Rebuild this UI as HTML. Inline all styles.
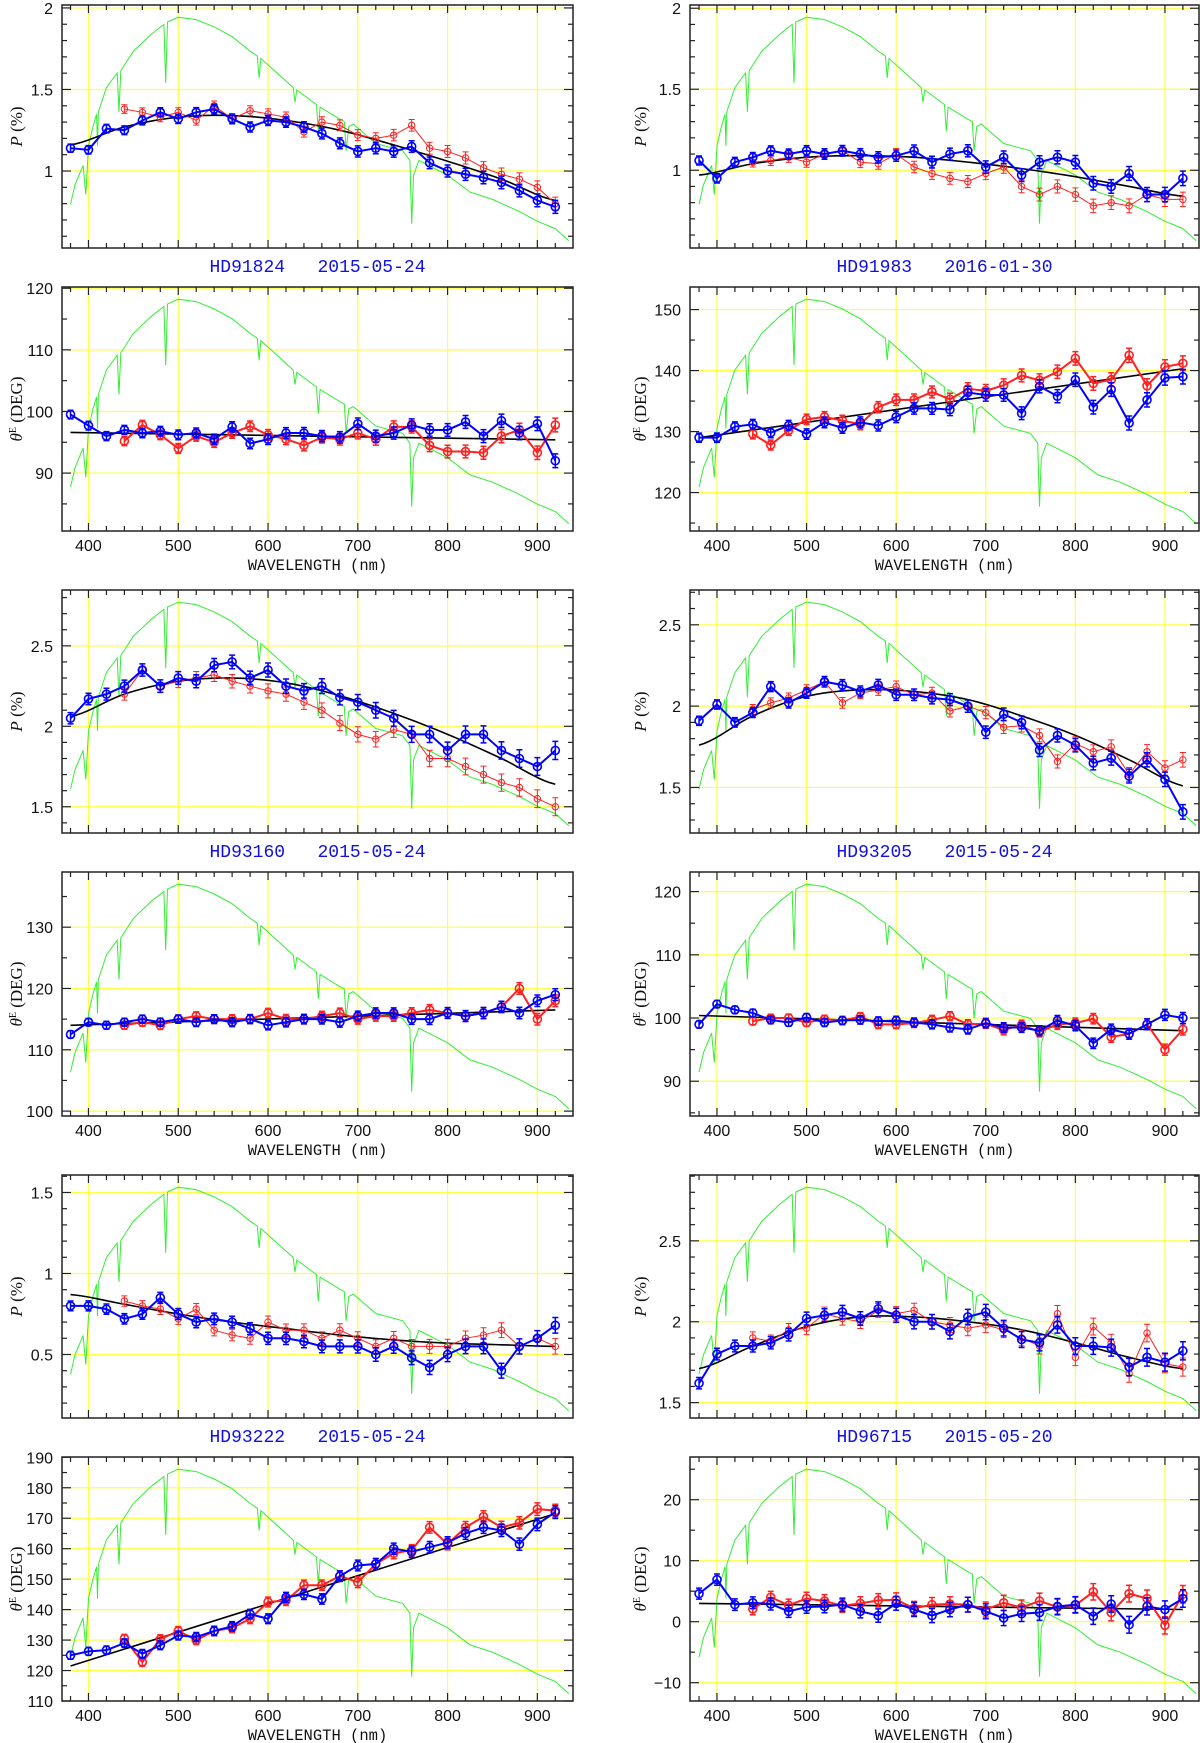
<!DOCTYPE html>
<html><head><meta charset="utf-8">
<style>
html,body{margin:0;padding:0;background:#fff;}
svg{display:block;}
text{font-family:"Liberation Sans",sans-serif;}
</style></head>
<body>
<svg id="fig" xmlns="http://www.w3.org/2000/svg" width="1200" height="1743" viewBox="0 0 1200 1743"></svg>
<script>
// ---- shared categories ----
const wlBlue=[380,400,420,440,460,480,500,520,540,560,580,600,620,640,660,680,700,720,740,760,780,800,820,840,860,880,900,920];
const wlRed=[440,460,480,500,520,540,560,580,600,620,640,660,680,700,720,740,760,780,800,820,840,860,880,900,920];
const wlFitCurve=[380,440,500,560,620,680,740,800,860,920];
const wlFitLine=[380,920];
const xTickLabels=["400","500","600","700","800","900"];
// green spectrum template (fraction of axis height)
const greenWl=[380,385,394,397,400,405,409,410,411,420,432,434,436,450,470,484,486,488,500,520,540,560,580,588,590,592,610,628,630,632,654,656,658,680,685,687,690,695,720,750,758,760,762,768,800,825,850,880,900,920,935];
const greenFrac=[0.18,0.26,0.34,0.22,0.42,0.5,0.55,0.42,0.56,0.66,0.72,0.56,0.73,0.81,0.88,0.92,0.68,0.93,0.95,0.94,0.91,0.87,0.81,0.79,0.7,0.78,0.72,0.66,0.6,0.65,0.59,0.48,0.58,0.53,0.52,0.4,0.5,0.51,0.43,0.4,0.36,0.1,0.3,0.36,0.3,0.23,0.2,0.15,0.11,0.08,0.03];

// ---- panel A: HD91824 P ----
const aBlue=[1.14,1.13,1.26,1.25,1.31,1.36,1.32,1.36,1.38,1.32,1.27,1.31,1.30,1.27,1.23,1.17,1.12,1.14,1.12,1.15,1.05,1.00,0.98,0.96,0.93,0.88,0.82,0.78];
const aRed=[1.38,1.36,1.33,1.36,1.31,1.40,1.32,1.37,1.35,1.33,1.24,1.30,1.28,1.22,1.20,1.22,1.28,1.14,1.12,1.08,1.02,0.98,0.95,0.90,0.80];
const aFit=[1.16,1.27,1.33,1.34,1.31,1.25,1.16,1.06,0.95,0.82];
// ---- panel B: HD91983 P ----
const bBlue=[1.06,0.95,1.05,1.08,1.12,1.10,1.12,1.10,1.12,1.10,1.08,1.09,1.12,1.05,1.10,1.12,1.02,1.08,0.97,1.05,1.08,1.05,0.92,0.90,0.98,0.85,0.85,0.95];
const bRed=[1.05,1.06,1.08,1.05,1.10,1.12,1.05,1.04,1.10,1.02,0.98,0.95,0.93,0.98,1.02,0.90,0.85,0.90,0.85,0.78,0.80,0.78,0.85,0.82,0.82];
const bFit=[0.97,1.04,1.08,1.09,1.08,1.05,1.01,0.96,0.90,0.84];
// ---- panel C: HD91824 theta ----
const cBlue=[99.5,97.7,96,97,96.5,96.8,96.2,96.5,95.5,97.5,94.8,95.5,96.5,96.5,96,95.8,98,96,96.5,97.8,97,97,98.3,96,98.5,96.5,98,92];
const cRed=[95.2,97.8,96.2,94,96,95,96.5,97.6,96.2,95.5,94.5,95.8,95.5,96.5,95.5,97.5,97.5,94.5,93.5,93.5,93.3,96,97,93.3,97.8];
const cFit=[96.6,95.4];
// ---- panel D: HD91983 theta ----
const dBlue=[129,129,130.8,131.2,129.8,131,129.6,131.5,130.6,131.5,131,132.4,133.8,133.8,133.6,136.4,136,136,133,137.4,135.8,138.5,134,136.9,131.4,135.2,138.8,139];
const dRed=[129.6,127.8,130.2,132,132.4,131.8,131.2,134,135.2,135.2,136.5,135.3,137,136.7,137.6,139.2,138.4,139.8,142,137.9,138.5,142.5,137.5,140.6,141.2];
const dFit=[129,140.3];
// ---- panel E: HD93160 P ----
const eBlue=[2.05,2.17,2.2,2.25,2.35,2.25,2.3,2.28,2.38,2.4,2.3,2.35,2.25,2.22,2.25,2.18,2.15,2.1,2.05,1.95,1.95,1.85,1.95,1.95,1.85,1.8,1.75,1.85];
const eRed=[2.2,2.35,2.25,2.28,2.3,2.32,2.28,2.25,2.22,2.2,2.15,2.1,2.02,1.95,1.92,1.98,1.95,1.8,1.8,1.75,1.7,1.65,1.62,1.55,1.5];
const eFit=[2.06,2.2,2.28,2.3,2.27,2.19,2.08,1.95,1.8,1.64];
// ---- panel F: HD93205 P ----
const fBlue=[1.91,2.01,1.9,1.96,2.12,2.02,2.08,2.15,2.13,2.09,2.13,2.07,2.07,2.05,2.04,2.0,1.84,1.95,1.9,1.73,1.82,1.76,1.65,1.68,1.57,1.67,1.55,1.35];
const fRed=[1.98,2.02,2.05,2.1,2.15,2.02,2.08,2.1,2.12,2.07,2.08,1.97,2.0,1.96,1.87,1.88,1.82,1.66,1.77,1.72,1.75,1.58,1.72,1.62,1.67];
const fFit=[1.76,1.94,2.06,2.1,2.09,2.04,1.94,1.82,1.67,1.51];
// ---- panel G: HD93160 theta ----
const gBlue=[112.5,114.5,114,114.5,115,114.5,115,114.5,115,114.5,115,114,114.5,115,115,114.5,115.5,116,116,115,115,116,115.5,116,117,116,118,119];
const gRed=[114,114.5,114,115,115.5,115,115,115,116,115,115,115.5,116,115,115.5,115.5,116,116.5,116,115.5,116,117,120,115,118];
const gFit=[114,116.5];
// ---- panel H: HD93205 theta ----
const hBlue=[99,102.2,101.3,100.8,99.7,99.3,100.1,99.3,99.6,99.7,99.5,99.6,99.3,99,98.5,98.2,99.2,98.5,98.5,98,99.6,98.8,96,98.2,97.5,99,100.5,100];
const hRed=[99.5,100,100,99.3,99.8,99.6,100.2,99,99,99.2,99.7,100.3,99,99.1,98.1,98.9,97.8,99,99.2,99.9,97,97.5,99,95,98.2];
const hFit=[100.4,98];
// ---- panel I: HD93222 P ----
const iBlue=[0.8,0.8,0.78,0.72,0.75,0.85,0.75,0.7,0.72,0.7,0.66,0.6,0.6,0.58,0.55,0.55,0.55,0.5,0.55,0.48,0.42,0.5,0.55,0.55,0.4,0.55,0.6,0.68];
const iRed=[0.83,0.8,0.78,0.72,0.78,0.65,0.62,0.6,0.7,0.65,0.65,0.6,0.65,0.6,0.55,0.6,0.55,0.55,0.55,0.6,0.62,0.65,0.55,0.6,0.55];
const iFit=[0.87,0.81,0.75,0.7,0.66,0.62,0.59,0.57,0.56,0.55];
// ---- panel J: HD96715 P ----
const jBlue=[1.62,1.8,1.85,1.85,1.87,1.92,2.02,2.04,2.06,2.02,2.08,2.04,2.0,2.0,1.94,2.03,2.06,1.96,1.89,1.87,1.98,1.85,1.85,1.84,1.72,1.78,1.75,1.82];
const jRed=[1.9,1.88,1.95,1.96,2.05,2.02,2.0,2.07,2.05,2.07,2.0,1.98,1.96,1.98,1.95,1.9,1.85,2.05,1.78,1.97,1.87,1.68,1.93,1.74,1.72];
const jFit=[1.71,1.85,1.97,2.03,2.03,2.0,1.95,1.87,1.78,1.71];
// ---- panel K: HD93222 theta ----
const kBlue=[125,126.3,126.7,129,125.5,128.3,131.5,131,133,134.5,138.5,137,144,145,143.5,151,154.5,155,160,159,160.5,162,165,167,166,161.5,168,172];
const kRed=[130.5,122.8,130.3,133,130,133,134,137,142.5,143,148,148,151,149,155,158.5,159.5,167,161.5,167,170.5,167,168.5,173,172.5];
const kFit=[121.5,171.5];
// ---- panel L: HD96715 theta ----
const lBlue=[4.6,6.9,2.8,3.1,2.9,1.7,2.4,2.5,2.8,1.7,1.0,3.0,2.0,1.0,2.0,2.8,1.7,0.6,1.3,1.5,2.5,2.8,0.9,2.9,-0.5,2.5,2.0,3.8];
const lRed=[2.1,4.0,2.7,3.8,3.4,2.6,3.0,3.5,3.6,2.2,2.8,2.9,2.8,2.0,3.1,2.3,3.4,2.4,2.7,4.9,1.5,4.6,3.8,-0.6,4.5];
const lFit=[3,2];

const panels=[
 {n:'hd91824-p',col:0,row:0,kind:'P',ymin:0.528,ymax:2.018,major:0.5,minor:0.1,blue:aBlue,red:aRed,fit:aFit,err:0.025,title:'HD91824   2015-05-24'},
 {n:'hd91983-p',col:1,row:0,kind:'P',ymin:0.52,ymax:2.02,major:0.5,minor:0.1,blue:bBlue,red:bRed,fit:bFit,err:0.028,title:'HD91983   2016-01-30'},
 {n:'hd91824-theta',col:0,row:0,kind:'T',ymin:80.6,ymax:120.2,major:10,minor:5,blue:cBlue,red:cRed,fit:cFit,err:0.7},
 {n:'hd91983-theta',col:1,row:0,kind:'T',ymin:113.7,ymax:153.7,major:10,minor:5,blue:dBlue,red:dRed,fit:dFit,err:0.75},
 {n:'hd93160-p',col:0,row:1,kind:'P',ymin:1.337,ymax:2.847,major:0.5,minor:0.1,blue:eBlue,red:eRed,fit:eFit,err:0.035,title:'HD93160   2015-05-24'},
 {n:'hd93205-p',col:1,row:1,kind:'P',ymin:1.22,ymax:2.714,major:0.5,minor:0.1,blue:fBlue,red:fRed,fit:fFit,err:0.028,title:'HD93205   2015-05-24'},
 {n:'hd93160-theta',col:0,row:1,kind:'T',ymin:99.2,ymax:139.0,major:10,minor:5,blue:gBlue,red:gRed,fit:gFit,err:0.6},
 {n:'hd93205-theta',col:1,row:1,kind:'T',ymin:84.5,ymax:123.1,major:10,minor:5,blue:hBlue,red:hRed,fit:hFit,err:0.55},
 {n:'hd93222-p',col:0,row:2,kind:'P',ymin:0.108,ymax:1.608,major:0.5,minor:0.1,blue:iBlue,red:iRed,fit:iFit,err:0.03,title:'HD93222   2015-05-24'},
 {n:'hd96715-p',col:1,row:2,kind:'P',ymin:1.405,ymax:2.907,major:0.5,minor:0.1,blue:jBlue,red:jRed,fit:jFit,err:0.035,title:'HD96715   2015-05-20'},
 {n:'hd93222-theta',col:0,row:2,kind:'T',ymin:110,ymax:190.1,major:10,minor:5,blue:kBlue,red:kRed,fit:kFit,err:1.3},
 {n:'hd96715-theta',col:1,row:2,kind:'T',ymin:-13,ymax:27,major:10,minor:5,blue:lBlue,red:lRed,fit:lFit,err:0.9}
];

const NS='http://www.w3.org/2000/svg';
const svg=document.getElementById('fig');
function mk(tag,attrs,parent){const e=document.createElementNS(NS,tag);for(const k in attrs)e.setAttribute(k,attrs[k]);(parent||svg).appendChild(e);return e;}
const COLS=[{x0:62,x1:573,l0:370.5,l1:939.7},{x0:690,x1:1199,l0:369.9,l1:938}];

function fmt(v){let s=(Math.round(v*1000)/1000).toString();if(s.startsWith('-'))s='\u2212'+s.slice(1);return s;}

panels.forEach(p=>{
  const C=COLS[p.col];
  const top=(p.kind==='P'?5:287)+585*p.row, bot=(p.kind==='P'?248:531)+585*p.row;
  const X=l=>C.x0+(l-C.l0)/(C.l1-C.l0)*(C.x1-C.x0);
  const Y=v=>bot-(v-p.ymin)/(p.ymax-p.ymin)*(bot-top);
  const g=mk('g',{});
  
  
  const cid='clip-'+p.n;
  const cp=mk('clipPath',{id:cid},g);mk('rect',{x:C.x0,y:top,width:C.x1-C.x0,height:bot-top},cp);
  const inner=mk('g',{'clip-path':'url(#'+cid+')'},g);
  const grid=mk('g',{stroke:'#ffff44','stroke-width':1.2},inner);
  
  
  [400,500,600,700,800,900].forEach(l=>mk('line',{x1:X(l),x2:X(l),y1:top,y2:bot},grid));
  const majors=[];
  for(let v=Math.ceil(p.ymin/p.major-1e-9)*p.major;v<=p.ymax+1e-9;v+=p.major)majors.push(+v.toFixed(3));
  majors.forEach(v=>mk('line',{x1:C.x0,x2:C.x1,y1:Y(v),y2:Y(v)},grid));
  const gp=greenWl.map((l,i)=>X(l).toFixed(1)+','+(bot-greenFrac[i]*(bot-top)).toFixed(1)).join(' ');
  const gl=mk('polyline',{points:gp,fill:'none',stroke:'#33ee33','stroke-width':1},inner);
  
  
  const fw=p.fit.length===2?wlFitLine:wlFitCurve;
  let fpts;
  if(fw.length===2){fpts=fw.map((l,i)=>X(l)+','+Y(p.fit[i])).join(' ');}
  else{
    const pts=[];
    for(let i=0;i<fw.length-1;i++){
      const p0=p.fit[Math.max(0,i-1)],p1=p.fit[i],p2=p.fit[i+1],p3=p.fit[Math.min(fw.length-1,i+2)];
      for(let t=0;t<1;t+=0.1){
        const t2=t*t,t3=t2*t;
        const v=0.5*((2*p1)+(-p0+p2)*t+(2*p0-5*p1+4*p2-p3)*t2+(-p0+3*p1-3*p2+p3)*t3);
        pts.push(X(fw[i]+t*(fw[i+1]-fw[i]))+','+Y(v));
      }
    }
    pts.push(X(fw[fw.length-1])+','+Y(p.fit[fw.length-1]));
    fpts=pts.join(' ');
  }
  const fl=mk('polyline',{points:fpts,fill:'none',stroke:'#000','stroke-width':1.6},inner);
  
  
  function series(wl,vals,color,thick,name){
    const sg=mk('g',{},inner);
    
    
    mk('polyline',{points:wl.map((l,i)=>X(l)+','+Y(vals[i])).join(' '),fill:'none',stroke:color,'stroke-width':thick?2:1},sg);
    wl.forEach((l,i)=>{
      const e=p.err*(1+(l-380)/900);
      const x=X(l),y=Y(vals[i]),y1=Y(vals[i]+e),y2=Y(vals[i]-e);
      const eb=mk('path',{d:`M${x},${y1}V${y2}M${x-3},${y1}H${x+3}M${x-3},${y2}H${x+3}`,stroke:color,'stroke-width':thick?1.5:1,fill:'none'},sg);
      
      
      const c=mk('circle',{cx:x,cy:y,r:thick?4:3.2,fill:'none',stroke:color,'stroke-width':thick?1.6:1},sg);
      
      
    });
  }
  series(wlRed,p.red,'#ff2020',p.kind==='T','red');
  series(wlBlue,p.blue,'#0000ff',true,'blue');
  const fr=mk('rect',{x:C.x0,y:top,width:C.x1-C.x0,height:bot-top,fill:'none',stroke:'#222','stroke-width':1.5},g);
  
  
  const tk=mk('g',{stroke:'#222','stroke-width':1.2},g);
  
  
  for(let l=380;l<=920;l+=20){
    const len=(l%100===0)?8:5;
    mk('line',{x1:X(l),x2:X(l),y1:bot,y2:bot-len},tk);
    mk('line',{x1:X(l),x2:X(l),y1:top,y2:top+len},tk);
  }
  const n0=Math.ceil(p.ymin/p.minor-1e-9),n1=Math.floor(p.ymax/p.minor+1e-9);
  for(let k=n0;k<=n1;k++){
    const v=k*p.minor;const isMaj=Math.abs(v/p.major-Math.round(v/p.major))<1e-6;
    const len=isMaj?9:5;
    mk('line',{x1:C.x0,x2:C.x0+len,y1:Y(v),y2:Y(v)},tk);
    mk('line',{x1:C.x1,x2:C.x1-len,y1:Y(v),y2:Y(v)},tk);
  }
  majors.forEach(v=>{
    const t=mk('text',{x:C.x0-9,y:Y(v)+6,'text-anchor':'end','font-size':16,fill:'#111'},g);
    t.textContent=fmt(v);
    
    
  });
  const cy=(top+bot)/2, lx=C.x0-(p.col===0?40:44);
  const yt=mk('text',{x:lx,y:cy,'text-anchor':'middle','font-size':17,fill:'#111',transform:`rotate(-90 ${lx} ${cy})`,style:'font-family:"Liberation Serif",serif'},g);
  
  
  if(p.kind==='P'){
    yt.innerHTML='<tspan font-style="italic">P</tspan>  (%)';
  } else {
    yt.innerHTML='<tspan font-style="italic">θ</tspan><tspan font-size="10" dy="-6">E</tspan><tspan dy="6">  (DEG)</tspan>';
  }
  if(p.kind==='T'){
    xTickLabels.forEach((s,i)=>{
      const t=mk('text',{x:X(400+100*i),y:bot+20,'text-anchor':'middle','font-size':16,fill:'#111'},g);
      t.textContent=s;
      
      
    });
    const xt=mk('text',{x:(C.x0+C.x1)/2,y:bot+39,'text-anchor':'middle','font-size':15.5,fill:'#111',style:'font-family:"Liberation Mono",monospace'},g);
    xt.textContent='WAVELENGTH (nm)';
    
    
  }
  if(p.title){
    const tt=mk('text',{x:(C.x0+C.x1)/2,y:bot+24,'text-anchor':'middle','font-size':18,fill:'#1010e0','xml:space':'preserve',style:'font-family:"Liberation Mono",monospace;white-space:pre'},g);
    tt.textContent=p.title;
    
    
  }
});
</script>
</body></html>
